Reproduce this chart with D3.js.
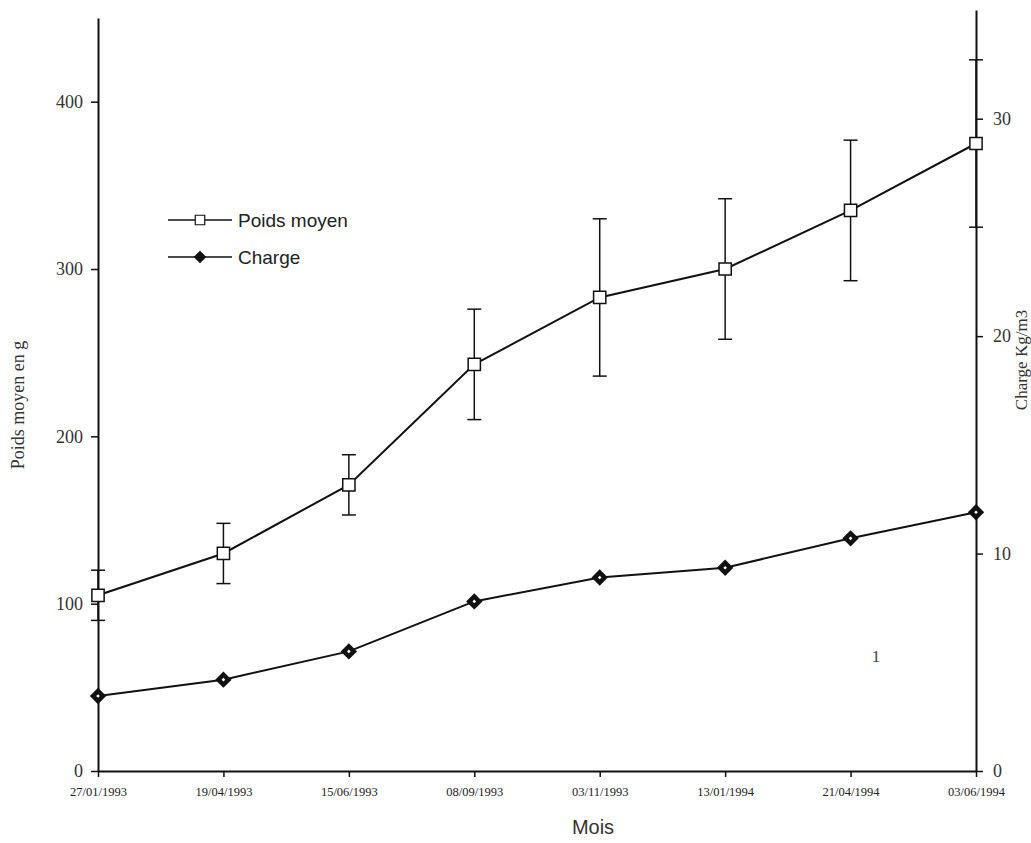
<!DOCTYPE html>
<html>
<head>
<meta charset="utf-8">
<script src="https://cdn.jsdelivr.net/npm/d3@7"></script>
<style>
  body { margin: 0; background: #fff; }
  .serif { font-family: "Liberation Serif", "DejaVu Serif", serif; }
  .sans { font-family: "Liberation Sans", Arial, sans-serif; }
</style>
</head>
<body>
<div class="chart"></div>
<script>
const width = 1031
const height = 843

const dates = ["27/01/1993", "19/04/1993", "15/06/1993", "08/09/1993",
               "03/11/1993", "13/01/1994", "21/04/1994", "03/06/1994"]
const poids = [105, 130, 171, 243, 283, 300, 335, 375]
const poidsErr = [15, 18, 18, 33, 47, 42, 42, 50]
const charge = [3.45, 4.2, 5.5, 7.8, 8.9, 9.35, 10.7, 11.9]
const leftTicks = [0, 100, 200, 300, 400]
const rightTicks = [0, 10, 20, 30]

const data = dates.map((d, i) => ({date: d, poids: poids[i], err: poidsErr[i], charge: charge[i]}))

const svg = d3.select(".chart")
    .append("svg")
    .attr("width", width)
    .attr("height", height)

const xScale = d3.scalePoint()
    .domain(dates)
    .range([98, 976])
    .padding(0)

const yLeft = d3.scaleLinear()
    .domain([0, 450])
    .range([771, 18])

const yRight = d3.scaleLinear()
    .domain([0, 35])
    .range([771, 10])

// axes
const xAxis = svg.append("g")
    .attr("transform", `translate(0, ${yLeft(0)})`)
    .call(d3.axisBottom(xScale).tickSize(6).tickSizeOuter(0).tickPadding(10))
xAxis.selectAll("text")
    .attr("class", "serif")
    .style("font-size", "12.5px")
    .attr("fill", "#222")

const leftAxis = svg.append("g")
    .attr("transform", `translate(${xScale(dates[0])}, 0)`)
    .call(d3.axisLeft(yLeft).tickValues(leftTicks).tickSize(7).tickSizeOuter(0).tickPadding(8))
leftAxis.selectAll("text")
    .attr("class", "serif")
    .style("font-size", "18px")
    .attr("fill", "#333")

const rightAxis = svg.append("g")
    .attr("transform", `translate(${xScale(dates[dates.length - 1])}, 0)`)
    .call(d3.axisRight(yRight).tickValues(rightTicks).tickSize(7).tickSizeOuter(0).tickPadding(10))
rightAxis.selectAll("text")
    .attr("class", "serif")
    .style("font-size", "18px")
    .attr("fill", "#333")

svg.selectAll(".domain").attr("stroke", "#111").attr("stroke-width", 2)
svg.selectAll(".tick line").attr("stroke", "#111").attr("stroke-width", 1.5)

// error bars
const eb = svg.append("g").attr("stroke", "#111").attr("stroke-width", 1.5)
eb.selectAll("line.v")
    .data(data)
    .enter().append("line")
    .attr("x1", d => xScale(d.date))
    .attr("x2", d => xScale(d.date))
    .attr("y1", d => yLeft(d.poids + d.err))
    .attr("y2", d => yLeft(d.poids - d.err))
eb.selectAll("line.top")
    .data(data)
    .enter().append("line")
    .attr("x1", d => xScale(d.date) - 7)
    .attr("x2", d => xScale(d.date) + 7)
    .attr("y1", d => yLeft(d.poids + d.err))
    .attr("y2", d => yLeft(d.poids + d.err))
eb.selectAll("line.bot")
    .data(data)
    .enter().append("line")
    .attr("x1", d => xScale(d.date) - 7)
    .attr("x2", d => xScale(d.date) + 7)
    .attr("y1", d => yLeft(d.poids - d.err))
    .attr("y2", d => yLeft(d.poids - d.err))

// lines
const poidsLine = d3.line()
    .x(d => xScale(d.date))
    .y(d => yLeft(d.poids))
const chargeLine = d3.line()
    .x(d => xScale(d.date))
    .y(d => yRight(d.charge))

svg.append("path")
    .datum(data)
    .attr("d", poidsLine)
    .attr("fill", "none")
    .attr("stroke", "#111")
    .attr("stroke-width", 2)

svg.append("path")
    .datum(data)
    .attr("d", chargeLine)
    .attr("fill", "none")
    .attr("stroke", "#111")
    .attr("stroke-width", 2)

// markers
const square = d3.symbol().type(d3.symbolSquare).size(150)
const diamond = d3.symbol().type(d3.symbolSquare).size(50)

svg.selectAll("path.sq")
    .data(data)
    .enter().append("path")
    .attr("d", square)
    .attr("transform", d => `translate(${xScale(d.date)}, ${yLeft(d.poids)})`)
    .attr("fill", "#fff")
    .attr("stroke", "#111")
    .attr("stroke-width", 1.5)

svg.selectAll("path.dm")
    .data(data)
    .enter().append("path")
    .attr("d", diamond)
    .attr("transform", d => `translate(${xScale(d.date)}, ${yRight(d.charge)}) rotate(45)`)
    .attr("fill", "#fff")
    .attr("stroke", "#111")
    .attr("stroke-width", 4.5)

// axis titles
svg.append("text")
    .attr("class", "serif")
    .attr("transform", "translate(24, 405) rotate(-90)")
    .attr("text-anchor", "middle")
    .style("font-size", "18px")
    .attr("fill", "#333")
    .text("Poids moyen en g")

svg.append("text")
    .attr("class", "serif")
    .attr("transform", "translate(1027, 360) rotate(-90)")
    .attr("text-anchor", "middle")
    .style("font-size", "17px")
    .attr("fill", "#333")
    .text("Charge Kg/m3")

svg.append("text")
    .attr("class", "sans")
    .attr("x", 593)
    .attr("y", 834)
    .attr("text-anchor", "middle")
    .style("font-size", "20px")
    .attr("fill", "#333")
    .text("Mois")

// legend
const legend = svg.append("g").attr("transform", "translate(168, 0)")
const legendItems = [
    {label: "Poids moyen", y: 220, d: d3.symbol().type(d3.symbolSquare).size(90)(), rot: 0, fill: "#fff", sw: 1.2},
    {label: "Charge", y: 257, d: d3.symbol().type(d3.symbolSquare).size(60)(), rot: 45, fill: "#111", sw: 1.2}
]
legendItems.forEach(it => {
    legend.append("line")
        .attr("x1", 0).attr("x2", 64)
        .attr("y1", it.y).attr("y2", it.y)
        .attr("stroke", "#111").attr("stroke-width", 1.5)
    legend.append("path")
        .attr("d", it.d)
        .attr("transform", `translate(32, ${it.y}) rotate(${it.rot})`)
        .attr("fill", it.fill)
        .attr("stroke", "#111")
        .attr("stroke-width", it.sw)
    legend.append("text")
        .attr("class", "sans")
        .attr("x", 70)
        .attr("y", it.y + 7)
        .style("font-size", "19px")
        .attr("fill", "#222")
        .text(it.label)
})

// stray scan mark
svg.append("text")
    .attr("class", "serif")
    .attr("x", 876)
    .attr("y", 662)
    .attr("text-anchor", "middle")
    .style("font-size", "17px")
    .attr("fill", "#444")
    .text("1")
</script>
</body>
</html>
